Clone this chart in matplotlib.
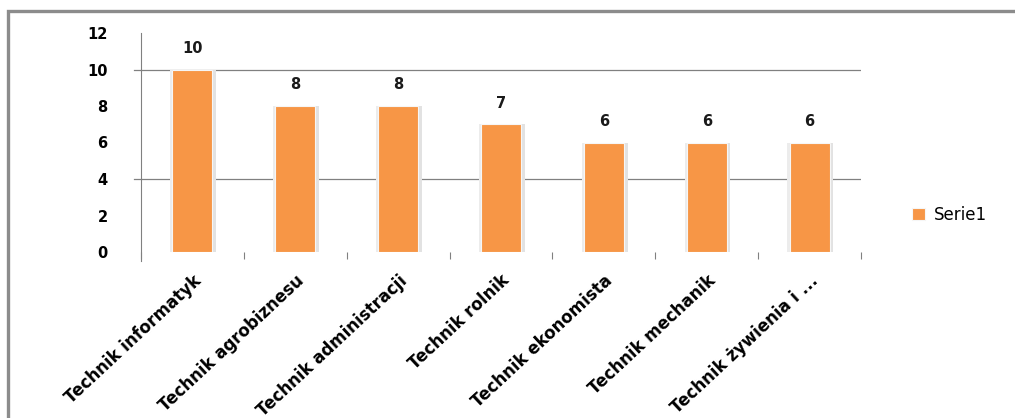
import matplotlib
matplotlib.use("Agg")
import matplotlib.pyplot as plt
from matplotlib.patches import Rectangle

categories = [
    "Technik informatyk",
    "Technik agrobiznesu",
    "Technik administracji",
    "Technik rolnik",
    "Technik ekonomista",
    "Technik mechanik",
    "Technik żywienia i ...",
]
values = [10, 8, 8, 7, 6, 6, 6]
series_name = "Serie1"
y_ticks = [0, 2, 4, 6, 8, 10, 12]
grid_levels = [4, 10]

BAR = "#F79646"
plt.rcParams["font.family"] = ["DejaVu Sans"]

fig = plt.figure(figsize=(10.15, 4.18), dpi=100)
# outer chart frame (only top and left edges visible in the reference)
fig.patches.append(Rectangle((8 / 1015, -0.1), 1.2, 1 - 11 / 418 + 0.1,
                             transform=fig.transFigure, fill=False,
                             edgecolor="#8c8c8c", linewidth=2.4))

ax = fig.add_axes([141 / 1015, 1 - 252 / 418, 720 / 1015, 219 / 418])
x = list(range(len(categories)))
bars = ax.bar(x, values, width=0.39, color=BAR, edgecolor="#f6f6f6",
              linewidth=0.8, label=series_name, zorder=3)
for b in bars:
    # soft shadow beside each bar
    ax.add_patch(Rectangle((b.get_x() + b.get_width(), 0), 0.035, b.get_height(),
                           color="#e2e2e2", zorder=2, linewidth=0))
    ax.add_patch(Rectangle((b.get_x() - 0.02, 0), 0.02, b.get_height(),
                           color="#ececec", zorder=2, linewidth=0))
for xi, v in zip(x, values):
    ax.text(xi, v + 0.75, str(v), ha="center", va="bottom", fontsize=10.5,
            fontweight="bold", color="#1a1a1a")

ax.set_xlim(-0.5, len(categories) - 0.5)
ax.set_ylim(0, 12)
ax.set_yticks(y_ticks)
ax.set_yticklabels([str(t) for t in y_ticks], fontsize=10.5, fontweight="bold")
for g in grid_levels:
    ax.axhline(g, color="#808080", linewidth=0.9, zorder=1)
    ax.plot([-0.57, -0.5], [g, g], color="#808080", linewidth=0.9,
            clip_on=False, zorder=1)

ax.set_xticks([i - 0.5 for i in range(len(categories) + 1)], minor=False)
ax.set_xticklabels([""] * (len(categories) + 1))
ax.set_xticks(x, minor=True)
ax.set_xticklabels(categories, minor=True, rotation=43, ha="right",
                   rotation_mode="anchor", fontsize=12, fontweight="bold")
ax.tick_params(axis="x", which="major", length=5, color="#808080", direction="out")
ax.tick_params(axis="x", which="minor", length=0, pad=14)
ax.tick_params(axis="y", length=0, pad=24)

for s in ["top", "right"]:
    ax.spines[s].set_visible(False)
ax.spines["left"].set_color("#808080")
ax.spines["bottom"].set_visible(False)
ax.spines["left"].set_bounds(-0.5, 12)

leg = ax.legend(loc="center left", bbox_to_anchor=(1.05, 0.17), frameon=False,
                fontsize=12, handlelength=0.8, handleheight=0.8, handletextpad=0.5)

fig.savefig("out.png", dpi=100)
